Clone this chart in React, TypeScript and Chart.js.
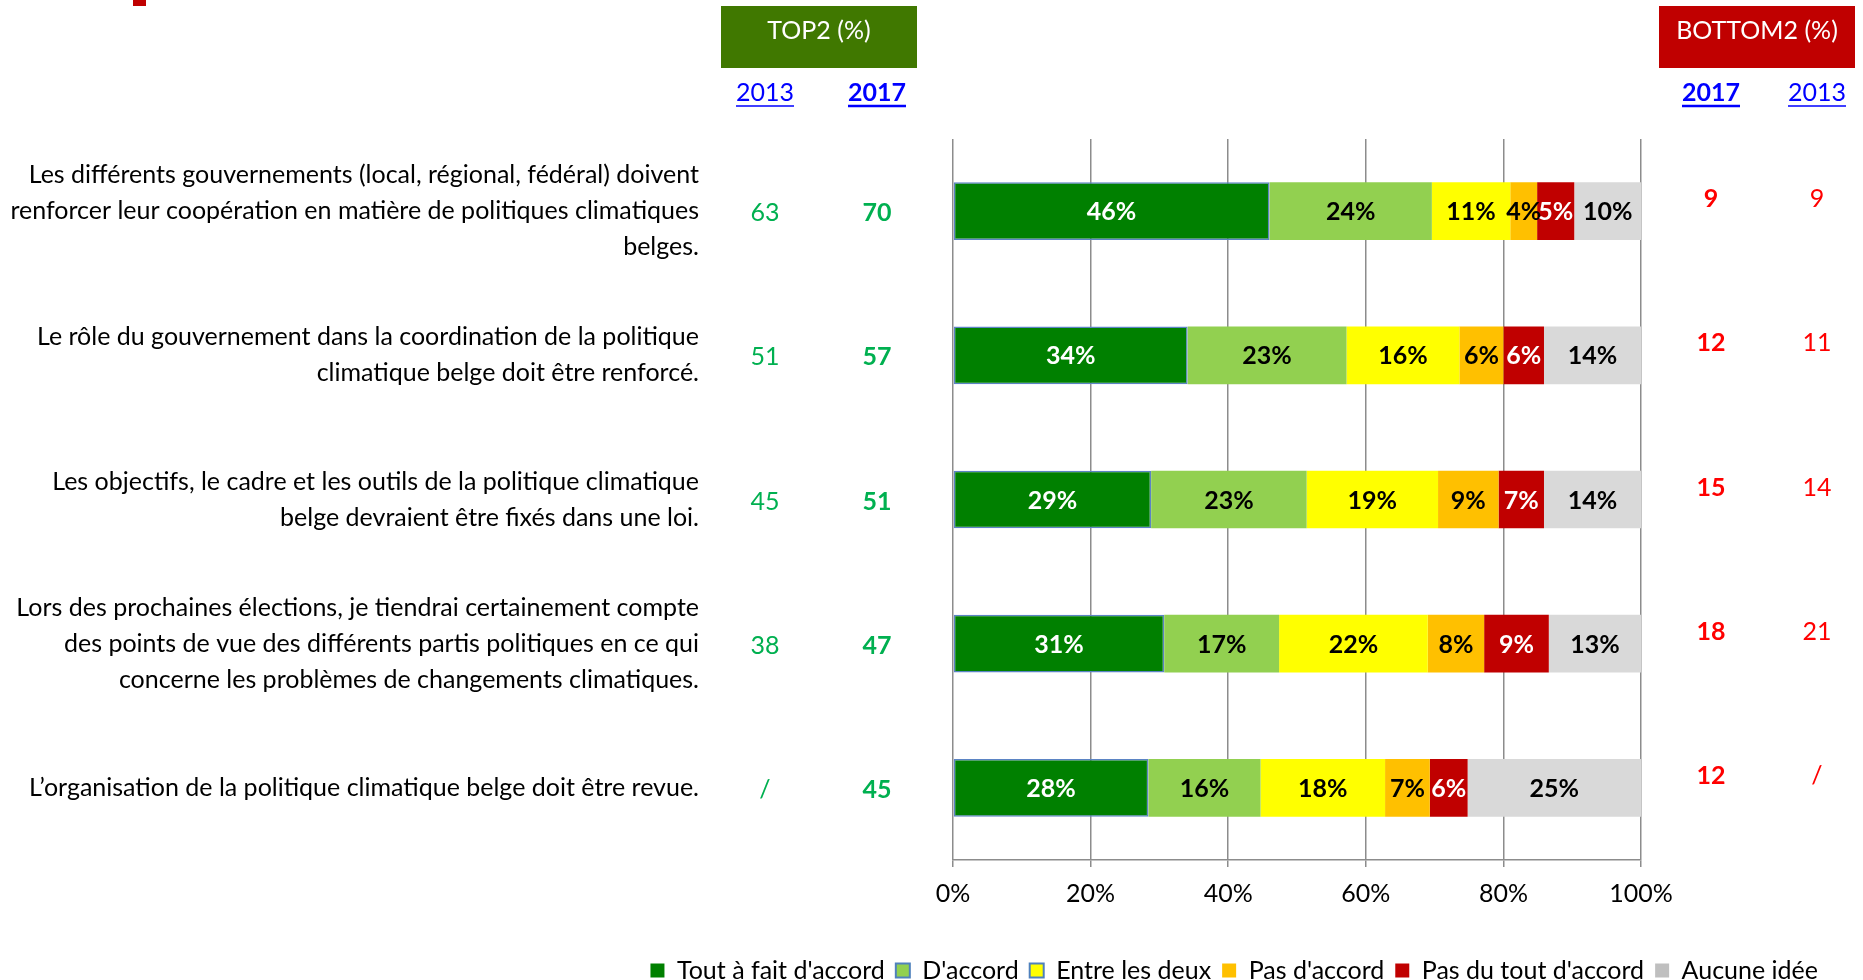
import React, { useEffect, useRef } from 'react';
import { Chart, registerables } from 'chart.js';

Chart.register(...registerables);

const FONT = 'Lato, "Liberation Sans", sans-serif';
const FS = 25;

const categories = [
  ['Les différents gouvernements (local, régional, fédéral) doivent', 'renforcer leur coopération en matière de politiques climatiques', 'belges.'],
  ['Le rôle du gouvernement dans la coordination de la politique', 'climatique belge doit être renforcé.'],
  ['Les objectifs, le cadre et les outils de la politique climatique', 'belge devraient être fixés dans une loi.'],
  ['Lors des prochaines élections, je tiendrai certainement compte', 'des points de vue des différents partis politiques en ce qui', 'concerne les problèmes de changements climatiques.'],
  ['L’organisation de la politique climatique belge doit être revue.'],
];

const seriesNames = ["Tout à fait d'accord", "D'accord", 'Entre les deux', "Pas d'accord", "Pas du tout d'accord", 'Aucune idée'];

const toutAFaitDAccord = [46, 34.1, 28.8, 30.7, 28.4];
const dAccord = [23.6, 23.1, 22.6, 16.7, 16.3];
const entreLesDeux = [11.4, 16.4, 19.1, 21.6, 18.1];
const pasDAccord = [3.9, 6.4, 8.8, 8.2, 6.5];
const pasDuToutDAccord = [5.4, 5.9, 6.6, 9.4, 5.5];
const aucuneIdee = [9.7, 14.1, 14.1, 13.4, 25.2];

const top2013 = ['63', '51', '45', '38', '/'];
const top2017 = ['70', '57', '51', '47', '45'];
const bottom2017 = ['9', '12', '15', '18', '12'];
const bottom2013 = ['9', '11', '14', '21', '/'];

const xTicks = [0, 20, 40, 60, 80, 100];

const seriesValues = [toutAFaitDAccord, dAccord, entreLesDeux, pasDAccord, pasDuToutDAccord, aucuneIdee];
const barColors = ['#008000', '#92D050', '#FFFF00', '#FFC000', '#C00000', '#D9D9D9'];
const legendColors = ['#008000', '#92D050', '#FFFF00', '#FFC000', '#C00000', '#BFBFBF'];
const legendStrokes = [null, '#4F81BD', '#4F81BD', null, null, null];
const labelColors = ['#FFFFFF', '#000000', '#000000', '#000000', '#FFFFFF', '#000000'];

const zeroPadding = (s: any) => {
  s.paddingTop = 0;
  s.paddingBottom = 0;
  s.paddingLeft = 0;
  s.paddingRight = 0;
};

const barLabelPlugin = {
  id: 'barLabels',
  afterDatasetsDraw(chart: any) {
    const ctx = chart.ctx;
    ctx.save();
    ctx.font = `bold ${FS}px ${FONT}`;
    ctx.textAlign = 'center';
    ctx.textBaseline = 'middle';
    chart.data.datasets.forEach((ds: any, di: number) => {
      const meta = chart.getDatasetMeta(di);
      meta.data.forEach((bar: any, i: number) => {
        const v = ds.data[i];
        const p = bar.getProps(['x', 'y', 'base'], true);
        ctx.fillStyle = labelColors[di];
        ctx.fillText(Math.round(v) + '%', (p.x + p.base) / 2, p.y + 1);
      });
    });
    ctx.restore();
  },
};

function underlinedText(ctx: any, text: string, x: number, y: number, bold: boolean, color: string) {
  ctx.font = `${bold ? 'bold ' : ''}${FS}px ${FONT}`;
  ctx.fillStyle = color;
  ctx.textAlign = 'center';
  ctx.textBaseline = 'middle';
  ctx.fillText(text, x, y);
  const w = ctx.measureText(text).width;
  ctx.strokeStyle = color;
  ctx.lineWidth = bold ? 2.5 : 1.5;
  ctx.beginPath();
  ctx.moveTo(x - w / 2, y + 13);
  ctx.lineTo(x + w / 2, y + 13);
  ctx.stroke();
}

const extrasPlugin = {
  id: 'extras',
  afterDraw(chart: any) {
    const ctx = chart.ctx;
    const area = chart.chartArea;
    const ys = chart.scales.y;
    ctx.save();
    // small red mark top-left
    ctx.fillStyle = '#C00000';
    ctx.fillRect(133, 0, 13, 6);

    // header boxes
    const topX = area.left - 134;
    const botX = area.right + 116;
    ctx.fillStyle = '#407800';
    ctx.fillRect(topX - 98, 6, 196, 62);
    ctx.fillStyle = '#C00000';
    ctx.fillRect(botX - 98, 6, 196, 62);
    ctx.fillStyle = '#FFFFFF';
    ctx.font = `${FS}px ${FONT}`;
    ctx.textAlign = 'center';
    ctx.textBaseline = 'middle';
    ctx.fillText('TOP2 (%)', topX, 31);
    ctx.fillText('BOTTOM2 (%)', botX, 31);

    const c13 = area.left - 188;
    const c17 = area.left - 76;
    const b17 = area.right + 70;
    const b13 = area.right + 176;
    underlinedText(ctx, '2013', c13, 93, false, '#0000FF');
    underlinedText(ctx, '2017', c17, 93, true, '#0000FF');
    underlinedText(ctx, '2017', b17, 93, true, '#0000FF');
    underlinedText(ctx, '2013', b13, 93, false, '#0000FF');

    categories.forEach((_, i) => {
      const y = ys.getPixelForValue(i);
      ctx.textAlign = 'center';
      ctx.textBaseline = 'middle';
      ctx.fillStyle = '#00B050';
      ctx.font = `${FS}px ${FONT}`;
      ctx.fillText(top2013[i], c13, y + 2);
      ctx.font = `bold ${FS}px ${FONT}`;
      ctx.fillText(top2017[i], c17, y + 2);
      ctx.fillStyle = '#FF0000';
      ctx.fillText(bottom2017[i], b17, y - 12);
      ctx.font = `${FS}px ${FONT}`;
      ctx.fillText(bottom2013[i], b13, y - 12);
    });
    ctx.restore();
  },
};

export default function App() {
  const ref = useRef<HTMLCanvasElement>(null);
  useEffect(() => {
    const chart = new Chart(ref.current as HTMLCanvasElement, {
      type: 'bar',
      data: {
        labels: categories as any,
        datasets: seriesNames.map((name, di) => ({
          label: name,
          data: seriesValues[di],
          backgroundColor: barColors[di],
          borderColor: di === 0 ? '#5B84C4' : barColors[di],
          borderWidth: di === 0 ? 1.5 : 0,
          borderSkipped: false,
          barPercentage: 0.5,
          categoryPercentage: 0.8,
          xAxisID: 'x',
          yAxisID: 'y',
        })),
      },
      options: {
        indexAxis: 'y',
        responsive: false,
        animation: false,
        layout: { padding: { top: 139, left: 0, right: 34, bottom: -13 } },
        scales: {
          x: {
            type: 'linear',
            stacked: true,
            min: 0,
            max: 100,
            afterBuildTicks: (s: any) => { s.ticks = xTicks.map((v) => ({ value: v })); },
            afterFit: (s: any) => { s.height = 87; zeroPadding(s); },
            ticks: {
              callback: (v: any) => v + '%',
              font: { family: FONT, size: FS },
              color: '#000000',
              padding: 12,
              maxRotation: 0,
            },
            grid: { color: '#8C8C8C', lineWidth: 1.5, tickLength: 7, drawTicks: true },
            border: { color: '#8C8C8C', width: 1.5 },
          },
          y: {
            type: 'category',
            stacked: true,
            position: 'left',
            afterFit: (s: any) => { s.width = 953; zeroPadding(s); },
            ticks: {
              autoSkip: false,
              font: { family: FONT, size: FS, lineHeight: '36px' },
              color: '#000000',
              padding: 254,
            },
            grid: { display: false, drawTicks: false },
            border: { display: false },
          },
          y2: {
            type: 'linear',
            position: 'right',
            display: true,
            afterFit: (s: any) => { s.width = 188; zeroPadding(s); },
            ticks: { display: false },
            grid: { display: false, drawTicks: false },
            border: { display: false },
          },
        },
        plugins: {
          legend: {
            position: 'bottom',
            align: 'end',
            labels: {
              font: { family: FONT, size: FS },
              color: '#000000',
              boxWidth: 14,
              boxHeight: 14,
              padding: 11,
              generateLabels: () =>
                seriesNames.map((name, di) => ({
                  text: name,
                  fillStyle: legendColors[di],
                  strokeStyle: legendStrokes[di] || legendColors[di],
                  lineWidth: legendStrokes[di] ? 2 : 0,
                  hidden: false,
                  datasetIndex: di,
                  fontColor: '#000000',
                })),
            },
          },
          tooltip: { enabled: false },
        },
      } as any,
      plugins: [barLabelPlugin, extrasPlugin],
    });
    return () => chart.destroy();
  }, []);

  return (
    <div style={{ position: 'fixed', left: 0, top: 0, width: 1863, height: 980, overflow: 'hidden', background: '#ffffff' }}>
      <canvas ref={ref} width={1863} height={980} style={{ display: 'block' }} />
    </div>
  );
}
